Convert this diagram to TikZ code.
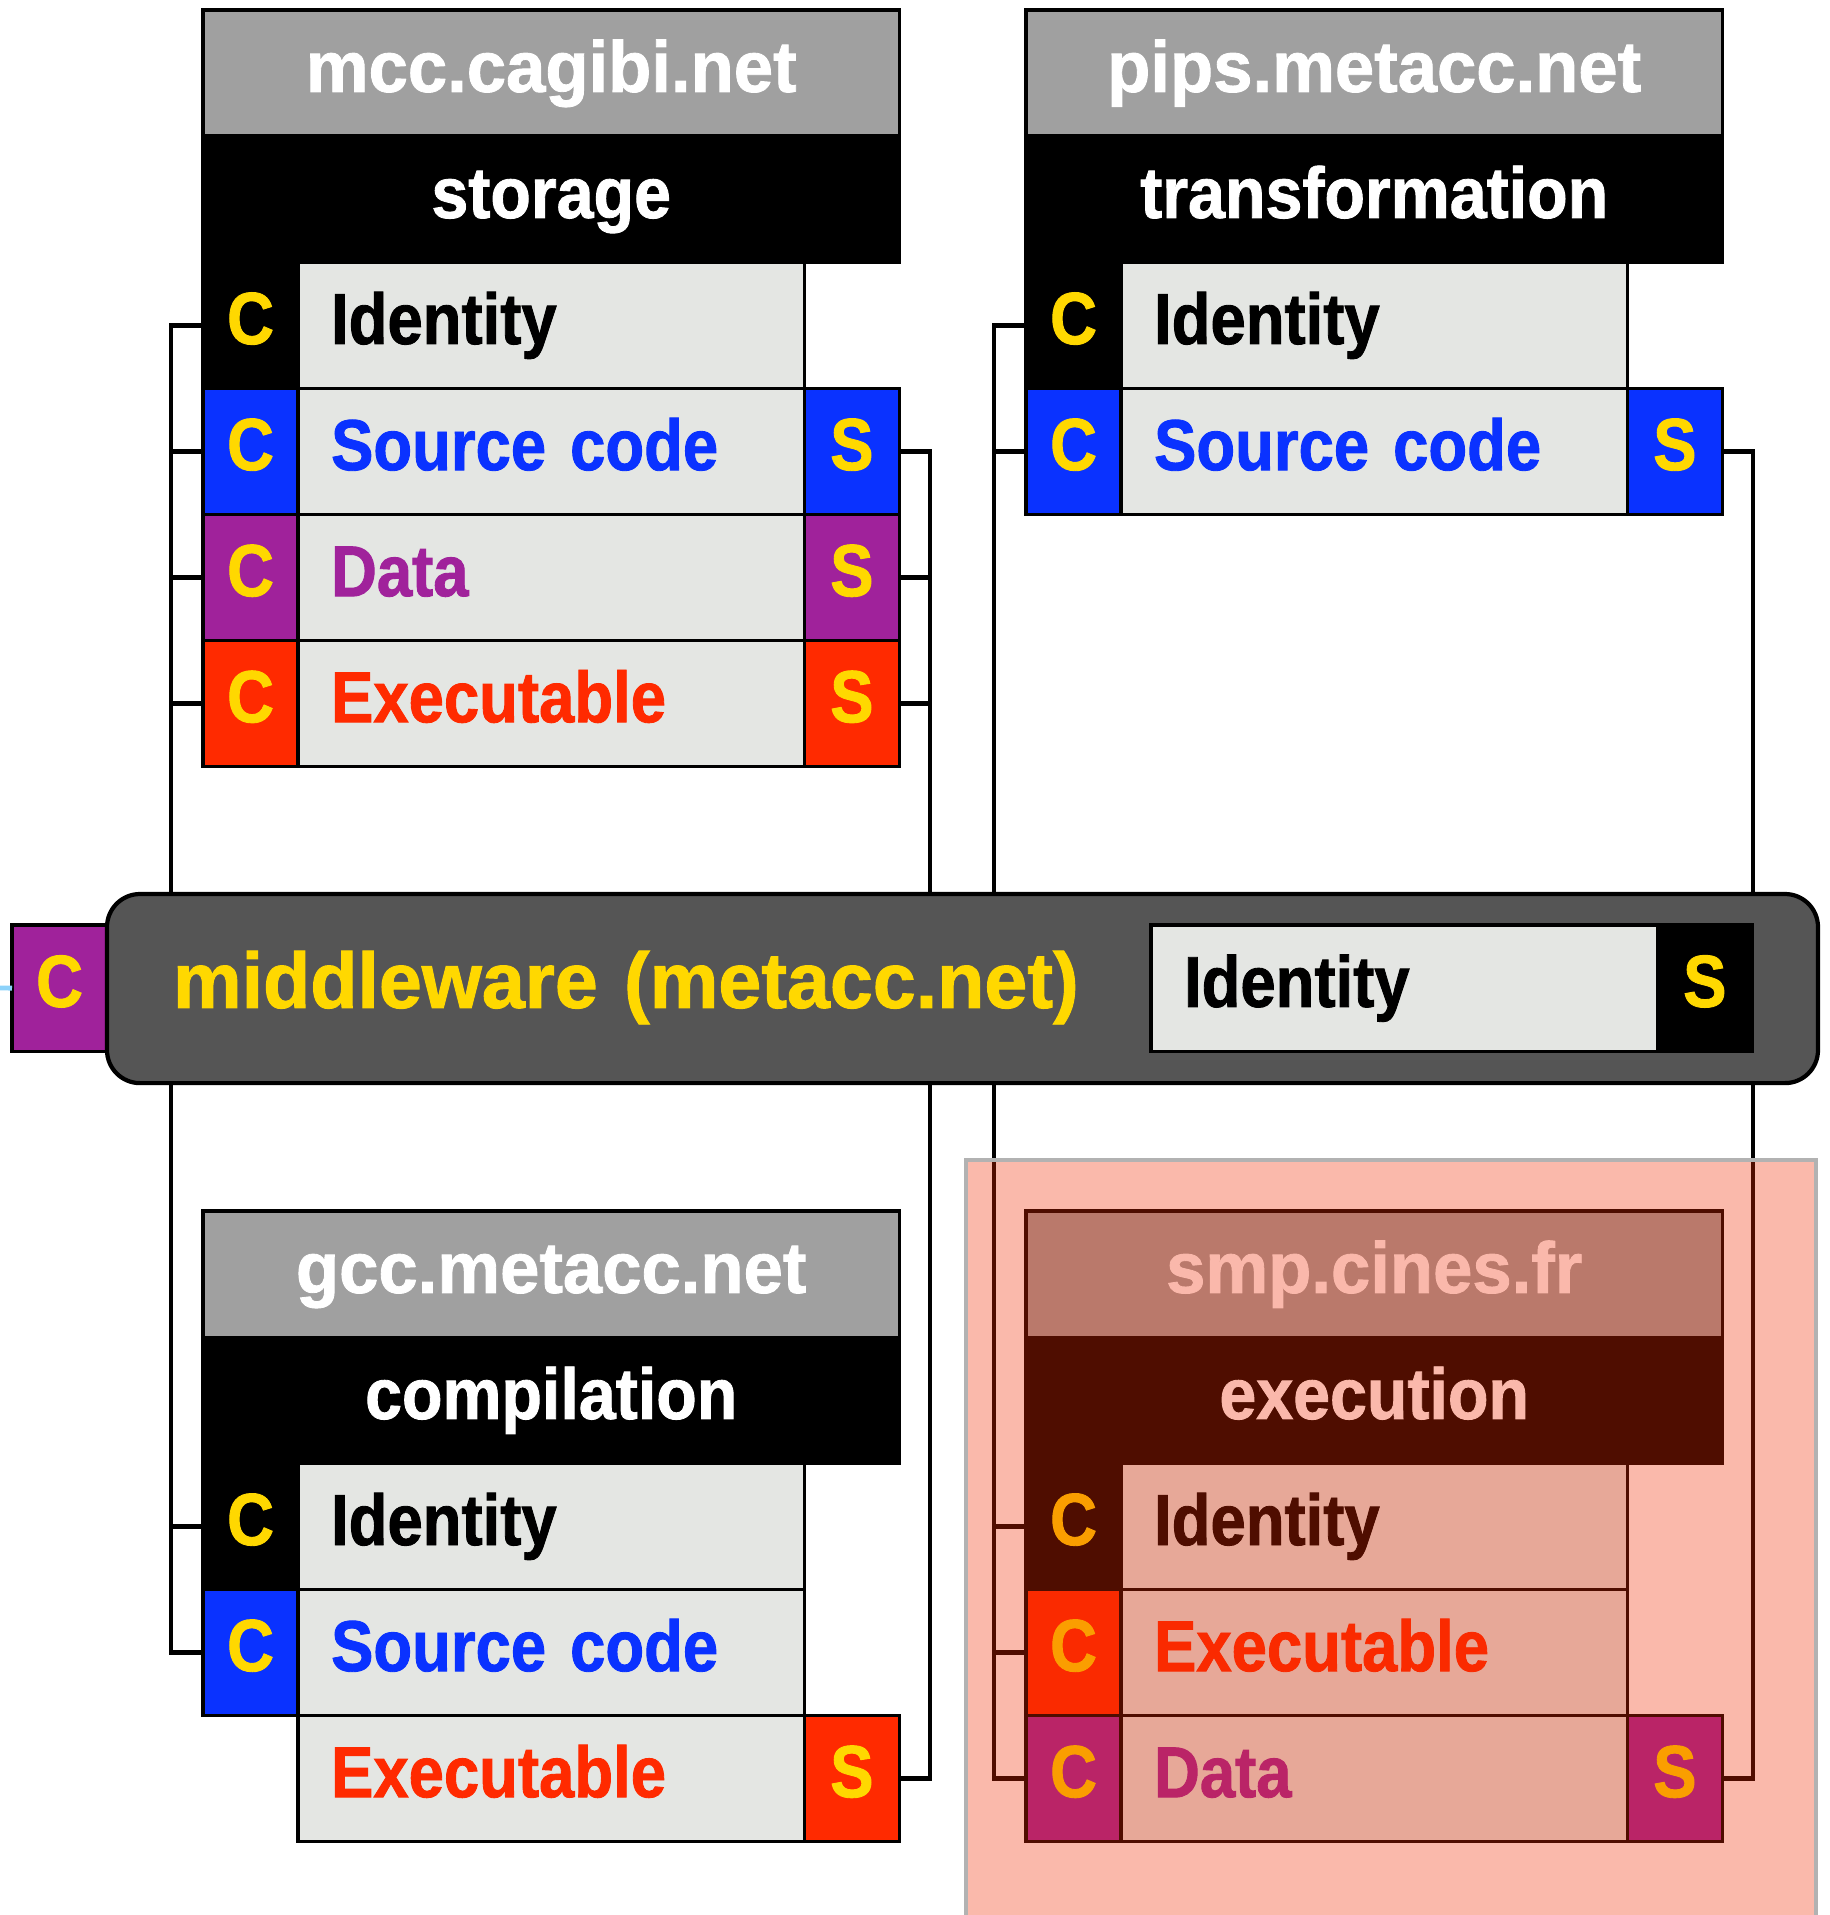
\documentclass[tikz,border=0pt]{standalone}
\usepackage{fontspec}
\usetikzlibrary{positioning}
\newfontfamily\lblfont{Liberation Sans}[FakeStretch=0.88, FakeBold=1.2]
\newfontfamily\rolefont{Liberation Sans}[FakeStretch=0.92, FakeBold=1.2]
\newfontfamily\hostfont{Liberation Sans}[FakeStretch=0.98, FakeBold=1.2]
\definecolor{ttlgrey}{HTML}{A0A0A0}
\definecolor{cellgrey}{HTML}{E4E6E3}
\definecolor{srcblue}{HTML}{0A32FF}
\definecolor{datpurple}{HTML}{A0229B}
\definecolor{exered}{HTML}{FF2A00}
\definecolor{portyellow}{HTML}{FFD800}
\definecolor{mwgrey}{HTML}{555555}
\definecolor{ovred}{RGB}{240,42,0}
\definecolor{ovgrey}{HTML}{B2B2B2}
\definecolor{linkblue}{HTML}{8CD2FA}
\begin{document}
\begin{tikzpicture}[x=0.01cm, y=-0.01cm,
    cell/.style={draw, line width=0.9pt, inner sep=0pt, outer sep=0pt,
        minimum height=1.26cm, text height=14.7pt, text depth=4pt},
    port/.style={cell, minimum width=0.95cm, text=portyellow,
        font=\lblfont\bfseries\fontsize{21pt}{24pt}\selectfont},
    lbl/.style={cell, fill=cellgrey, text width=4.4cm, inner xsep=0.33cm, align=left,
        font=\lblfont\bfseries\fontsize{20.5pt}{24pt}\selectfont},
    host/.style={cell, anchor=north west, minimum width=6.96cm, fill=ttlgrey, text=white,
        font=\hostfont\bfseries\fontsize{20.5pt}{24pt}\selectfont},
    role/.style={cell, minimum width=6.96cm, fill=black, text=white,
        font=\rolefont\bfseries\fontsize{20.5pt}{24pt}\selectfont},
    bus/.style={line width=1.4pt}]
    \useasboundingbox (0,0) rectangle (1829,1915);

    % Khối mcc.cagibi.net
    \node[host] (mccT) at (203,10) {mcc.cagibi.net};
    \node[role, below=0pt of mccT] (mccR) {storage};
    \node[lbl, anchor=north west] (mccL1) at ([xshift=0.95cm]mccR.south west) {Identity};
    \node[lbl, below=0pt of mccL1, text=srcblue] (mccL2) {Source code};
    \node[lbl, below=0pt of mccL2, text=datpurple] (mccL3) {Data};
    \node[lbl, below=0pt of mccL3, text=exered] (mccL4) {Executable};
    \node[port, left=0pt of mccL1, fill=black] (mccC1) {C};
    \node[port, left=0pt of mccL2, fill=srcblue] (mccC2) {C};
    \node[port, left=0pt of mccL3, fill=datpurple] (mccC3) {C};
    \node[port, left=0pt of mccL4, fill=exered] (mccC4) {C};
    \node[port, right=0pt of mccL2, fill=srcblue] (mccS2) {S};
    \node[port, right=0pt of mccL3, fill=datpurple] (mccS3) {S};
    \node[port, right=0pt of mccL4, fill=exered] (mccS4) {S};

    % Khối pips.metacc.net
    \node[host] (pipsT) at (1026,10) {pips.metacc.net};
    \node[role, below=0pt of pipsT] (pipsR) {transformation};
    \node[lbl, anchor=north west] (pipsL1) at ([xshift=0.95cm]pipsR.south west) {Identity};
    \node[lbl, below=0pt of pipsL1, text=srcblue] (pipsL2) {Source code};
    \node[port, left=0pt of pipsL1, fill=black] (pipsC1) {C};
    \node[port, left=0pt of pipsL2, fill=srcblue] (pipsC2) {C};
    \node[port, right=0pt of pipsL2, fill=srcblue] (pipsS2) {S};

    % Khối gcc.metacc.net
    \node[host] (gccT) at (203,1211) {gcc.metacc.net};
    \node[role, below=0pt of gccT] (gccR) {compilation};
    \node[lbl, anchor=north west] (gccL1) at ([xshift=0.95cm]gccR.south west) {Identity};
    \node[lbl, below=0pt of gccL1, text=srcblue] (gccL2) {Source code};
    \node[lbl, below=0pt of gccL2, text=exered] (gccL3) {Executable};
    \node[port, left=0pt of gccL1, fill=black] (gccC1) {C};
    \node[port, left=0pt of gccL2, fill=srcblue] (gccC2) {C};
    \node[port, right=0pt of gccL3, fill=exered] (gccS3) {S};

    % Khối smp.cines.fr
    \node[host] (smpT) at (1026,1211) {smp.cines.fr};
    \node[role, below=0pt of smpT] (smpR) {execution};
    \node[lbl, anchor=north west] (smpL1) at ([xshift=0.95cm]smpR.south west) {Identity};
    \node[lbl, below=0pt of smpL1, text=exered] (smpL2) {Executable};
    \node[lbl, below=0pt of smpL2, text=datpurple] (smpL3) {Data};
    \node[port, left=0pt of smpL1, fill=black] (smpC1) {C};
    \node[port, left=0pt of smpL2, fill=exered] (smpC2) {C};
    \node[port, left=0pt of smpL3, fill=datpurple] (smpC3) {C};
    \node[port, right=0pt of smpL3, fill=datpurple] (smpS3) {S};

    % Middleware
    \node[port, fill=datpurple, anchor=north west] (mwC) at (12,925) {C};
    \node[draw, line width=1.2pt, rounded corners=0.33cm, fill=mwgrey, outer sep=0pt,
        inner xsep=0.66cm, anchor=north west, minimum width=17.1cm, minimum height=1.89cm,
        text width=15.78cm, align=left, text=portyellow, text height=16pt, text depth=5pt,
        font=\hostfont\bfseries\fontsize{22.4pt}{26pt}\selectfont]
        (mw) at (107,894) {middleware (metacc.net)};
    \node[lbl, anchor=north west] (mwL) at (1151,925) {Identity};
    \node[port, right=0pt of mwL, fill=black] (mwS) {S};
    \coordinate (ext) at (0,988);
    \draw[linkblue, line width=1.4pt] (ext) -- (mwC.west);

    % Các đường nối
    \coordinate (busA) at (171,0);
    \coordinate (busB) at (930,0);
    \coordinate (busC) at (994,0);
    \coordinate (busD) at (1753,0);
    \draw[bus] (busA |- mw.north) -- (busA |- mccC1.west) -- (mccC1.west);
    \draw[bus] (busA |- mccC2.west) -- (mccC2.west);
    \draw[bus] (busA |- mccC3.west) -- (mccC3.west);
    \draw[bus] (busA |- mccC4.west) -- (mccC4.west);
    \draw[bus] (busB |- mw.north) -- (busB |- mccS2.east) -- (mccS2.east);
    \draw[bus] (busB |- mccS3.east) -- (mccS3.east);
    \draw[bus] (busB |- mccS4.east) -- (mccS4.east);
    \draw[bus] (busC |- mw.north) -- (busC |- pipsC1.west) -- (pipsC1.west);
    \draw[bus] (busC |- pipsC2.west) -- (pipsC2.west);
    \draw[bus] (busD |- mw.north) -- (busD |- pipsS2.east) -- (pipsS2.east);
    \draw[bus] (busA |- mw.south) -- (busA |- gccC2.west) -- (gccC2.west);
    \draw[bus] (busA |- gccC1.west) -- (gccC1.west);
    \draw[bus] (busB |- mw.south) -- (busB |- gccS3.east) -- (gccS3.east);
    \draw[bus] (busC |- mw.south) -- (busC |- smpC3.west) -- (smpC3.west);
    \draw[bus] (busC |- smpC1.west) -- (smpC1.west);
    \draw[bus] (busC |- smpC2.west) -- (smpC2.west);
    \draw[bus] (busD |- mw.south) -- (busD |- smpS3.east) -- (smpS3.east);

    % Vùng tô đỏ
    \path[draw=ovgrey, line width=1.3pt, fill=ovred, fill opacity=0.33]
        (966,1160) rectangle (1816,1940);
\end{tikzpicture}
\end{document}
